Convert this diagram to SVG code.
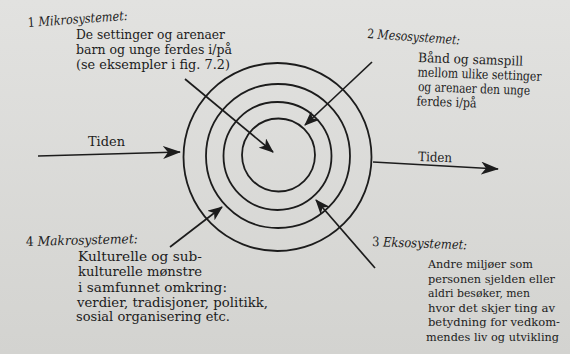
<svg xmlns="http://www.w3.org/2000/svg" width="570" height="354" viewBox="0 0 570 354">
  <style>
    text { font-family: "DejaVu Serif", serif; font-size: 13px; fill: #1c1c1c; }
    .it { font-style: italic; }
    .sm { font-size: 11.8px; }
    .ring { fill: none; stroke: #1c1c1c; stroke-width: 1.8; }
    .conn { fill: none; stroke: #1c1c1c; stroke-width: 1.7; }
  </style>
  <defs>
    <linearGradient id="paper" x1="0" y1="0" x2="0" y2="1">
      <stop offset="0" stop-color="#e2e2e0"/>
      <stop offset="1" stop-color="#d3d3d0"/>
    </linearGradient>
    <marker id="big" viewBox="0 0 18 13" refX="17" refY="6.5" markerWidth="18" markerHeight="13" markerUnits="userSpaceOnUse" orient="auto">
      <path d="M0,0 L18,6.5 L0,13 L5,6.5 Z" fill="#1c1c1c"/>
    </marker>
    <marker id="small" viewBox="0 0 15 12" refX="14" refY="6" markerWidth="15" markerHeight="12" markerUnits="userSpaceOnUse" orient="auto">
      <path d="M0,0 L15,6 L0,12 L4,6 Z" fill="#1c1c1c"/>
    </marker>
  </defs>
  <rect x="0" y="0" width="570" height="354" fill="url(#paper)"/>

  <g id="rings">
    <circle class="ring" cx="277.5" cy="157" r="94"/>
    <circle class="ring" cx="278" cy="156" r="72"/>
    <circle class="ring" cx="277.5" cy="156" r="54"/>
    <circle class="ring" cx="278.5" cy="155" r="36.5"/>
  </g>

  <g id="connectors">
    <line class="conn" x1="185" y1="79" x2="273" y2="152" marker-end="url(#small)"/>
    <line class="conn" x1="372" y1="62" x2="305" y2="125" marker-end="url(#small)"/>
    <line class="conn" x1="375" y1="268" x2="316" y2="200" marker-end="url(#small)"/>
    <line class="conn" x1="170" y1="247" x2="222" y2="207" marker-end="url(#small)"/>
    <line class="conn" x1="38" y1="156" x2="180" y2="152" marker-end="url(#big)"/>
    <line class="conn" x1="373" y1="162" x2="498" y2="169" marker-end="url(#big)"/>
  </g>

  <g id="tiden-left">
    <text x="88" y="146" textLength="37" lengthAdjust="spacingAndGlyphs">Tiden</text>
  </g>
  <g id="tiden-right">
    <text x="418" y="161" transform="rotate(2 418 161)" textLength="34" lengthAdjust="spacingAndGlyphs">Tiden</text>
  </g>

  <g id="mikro">
    <text x="28" y="27" transform="rotate(-4 28 27)" textLength="100" lengthAdjust="spacingAndGlyphs">1 <tspan class="it">Mikrosystemet:</tspan></text>
    <text x="76" y="39" textLength="149" lengthAdjust="spacingAndGlyphs">De settinger og arenaer</text>
    <text x="76" y="54" textLength="156" lengthAdjust="spacingAndGlyphs">barn og unge ferdes i/på</text>
    <text x="76" y="68.5" textLength="154" lengthAdjust="spacingAndGlyphs">(se eksempler i fig. 7.2)</text>
  </g>

  <g id="meso">
    <text x="367" y="38" transform="rotate(4 367 38)" textLength="93" lengthAdjust="spacingAndGlyphs">2 <tspan class="it">Mesosystemet:</tspan></text>
    <g transform="rotate(2 418 62)">
      <text x="418" y="62" textLength="105" lengthAdjust="spacingAndGlyphs">Bånd og samspill</text>
      <text x="418" y="76.5" textLength="124" lengthAdjust="spacingAndGlyphs">mellom ulike settinger</text>
      <text x="419" y="91" textLength="112" lengthAdjust="spacingAndGlyphs">og arenaer den unge</text>
      <text x="418" y="105.5" textLength="60" lengthAdjust="spacingAndGlyphs">ferdes i/på</text>
    </g>
  </g>

  <g id="ekso">
    <text x="372" y="246" transform="rotate(2 372 246)" textLength="95" lengthAdjust="spacingAndGlyphs">3 <tspan class="it">Eksosystemet:</tspan></text>
    <text class="sm" x="428" y="268" textLength="105" lengthAdjust="spacingAndGlyphs">Andre miljøer som</text>
    <text class="sm" x="428" y="282.5" textLength="127" lengthAdjust="spacingAndGlyphs">personen sjelden eller</text>
    <text class="sm" x="428" y="297" textLength="102" lengthAdjust="spacingAndGlyphs">aldri besøker, men</text>
    <text class="sm" x="428" y="311.5" textLength="127" lengthAdjust="spacingAndGlyphs">hvor det skjer ting av</text>
    <text class="sm" x="428" y="326" textLength="132" lengthAdjust="spacingAndGlyphs">betydning for vedkom-</text>
    <text class="sm" x="426" y="340.5" textLength="133" lengthAdjust="spacingAndGlyphs">mendes liv og utvikling</text>
  </g>

  <g id="makro">
    <text x="26" y="246" transform="rotate(-1.5 26 246)" textLength="112" lengthAdjust="spacingAndGlyphs">4 <tspan class="it">Makrosystemet:</tspan></text>
    <text x="78" y="261" textLength="124" lengthAdjust="spacingAndGlyphs">Kulturelle og sub-</text>
    <text x="78" y="276" textLength="124" lengthAdjust="spacingAndGlyphs">kulturelle mønstre</text>
    <text x="78" y="291.5" textLength="149" lengthAdjust="spacingAndGlyphs">i samfunnet omkring:</text>
    <text x="77" y="306.5" textLength="191" lengthAdjust="spacingAndGlyphs">verdier, tradisjoner, politikk,</text>
    <text x="76" y="321" textLength="154" lengthAdjust="spacingAndGlyphs">sosial organisering etc.</text>
  </g>
</svg>
